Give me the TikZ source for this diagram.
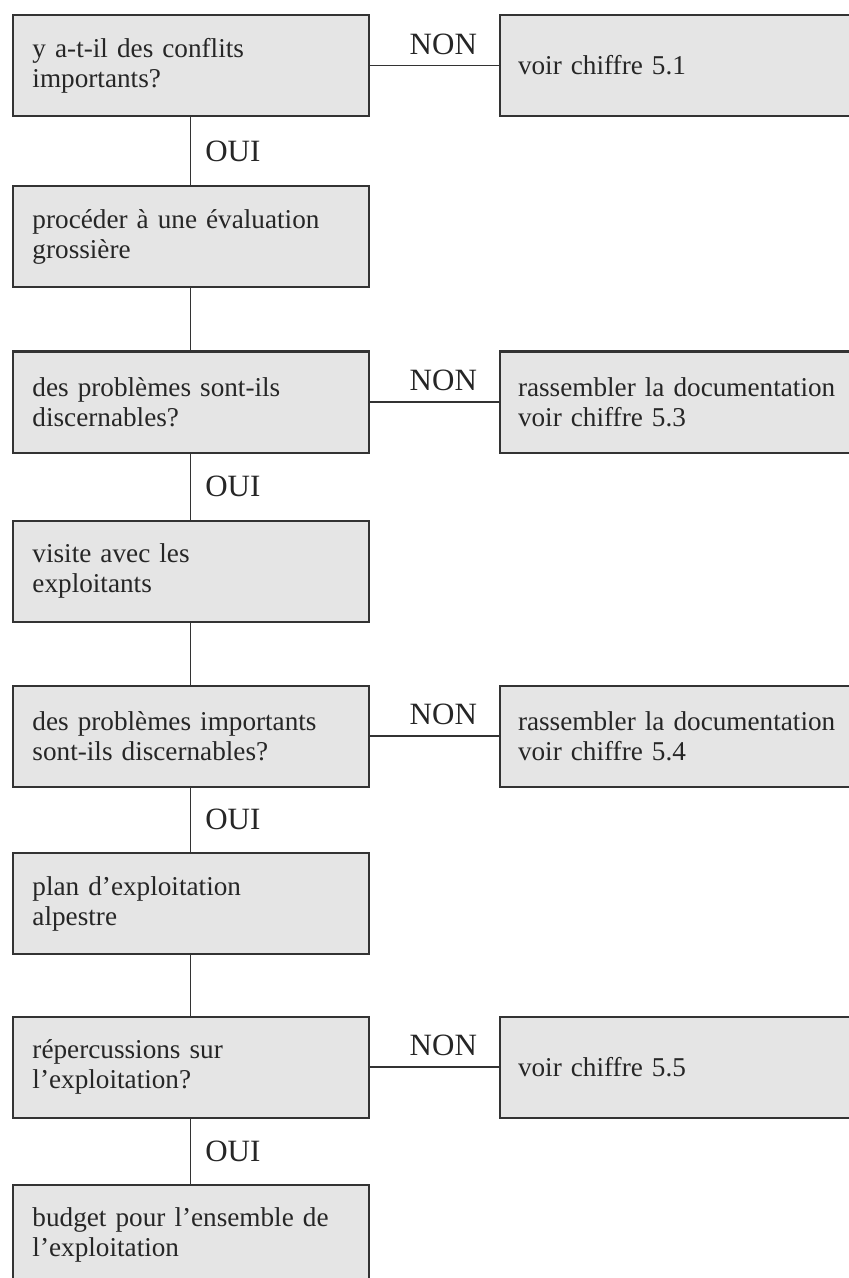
\documentclass[tikz,border=0pt]{standalone}
\usepackage{fontspec}
\setmainfont{Liberation Serif}

\begin{document}
\begin{tikzpicture}[x=.5pt,y=-.5pt,
  qbox/.style={draw=black!80, line width=1pt, fill=black!10, text=black!85,
    text width=158pt, inner xsep=10pt, minimum height=50.5pt, align=left,
    font=\fontsize{13.6}{15}\selectfont},
  abox/.style={qbox, text width=172pt, inner xsep=9pt},
  link/.style={draw=black!80, line width=.8pt},
  yes/.style={midway, right=7pt, inner sep=0pt, text=black!85,
    font=\fontsize{15.5}{16}\selectfont},
  no/.style={pos=.57, above=5pt, inner sep=0pt, text=black!85,
    font=\fontsize{15.5}{16}\selectfont}]
  \path[use as bounding box, clip] (0,0) rectangle (849,1278);
  % left column
  \node[qbox] (q1) at (190.5,65.5) {y a-t-il des conflits\\importants?};
  \node[qbox] (q2) at (190.5,237) {procéder à une évaluation\\grossière};
  \node[qbox] (q3) at (190.5,402) {des problèmes sont-ils\\discernables?};
  \node[qbox] (q4) at (190.5,571) {visite avec les\\exploitants};
  \node[qbox] (q5) at (190.5,736) {des problèmes importants\\sont-ils discernables?};
  \node[qbox] (q6) at (190.5,903.5) {plan d’exploitation\\alpestre};
  \node[qbox] (q7) at (190.5,1067) {répercussions sur\\l’exploitation?};
  \node[qbox] (q8) at (190.5,1235) {budget pour l’ensemble de\\l’exploitation};
  % right column
  \node[abox] (r1) at (690,65.5) {voir chiffre 5.1};
  \node[abox] (r3) at (690,402) {rassembler la documentation\\voir chiffre 5.3};
  \node[abox] (r5) at (690,736) {rassembler la documentation\\voir chiffre 5.4};
  \node[abox] (r7) at (690,1067) {voir chiffre 5.5};
  % connectors
  \draw[link] (q1.south) -- (q2.north) node[yes] {OUI};
  \draw[link] (q2.south) -- (q3.north);
  \draw[link] (q3.south) -- (q4.north) node[yes] {OUI};
  \draw[link] (q4.south) -- (q5.north);
  \draw[link] (q5.south) -- (q6.north) node[yes] {OUI};
  \draw[link] (q6.south) -- (q7.north);
  \draw[link] (q7.south) -- (q8.north) node[yes] {OUI};
  \draw[link] (q1.east) -- (r1.west) node[no] {NON};
  \draw[link] (q3.east) -- (r3.west) node[no] {NON};
  \draw[link] (q5.east) -- (r5.west) node[no] {NON};
  \draw[link] (q7.east) -- (r7.west) node[no] {NON};
\end{tikzpicture}
\end{document}
